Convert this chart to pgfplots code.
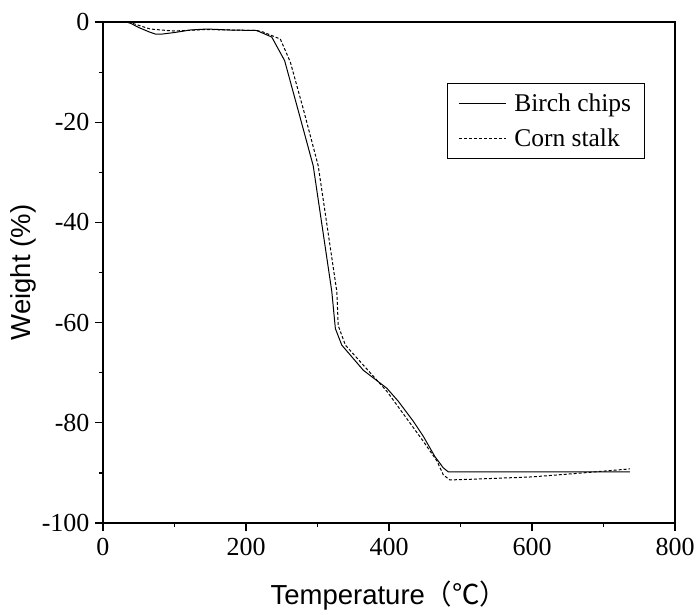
\documentclass[border=0pt]{standalone}
\usepackage{fontspec}
\setmainfont{Liberation Serif}
\newfontfamily\arial{Liberation Sans}
\newfontfamily\cjk{Noto Sans CJK SC}
\usepackage{pgfplots}
\pgfplotsset{compat=1.18}
\begin{document}
\begin{tikzpicture}
\begin{axis}[
  name=ax,
  scale only axis,
  width=572pt, height=501pt,
  xmin=0, xmax=800, ymin=-100, ymax=0,
  xtick={0,200,400,600,800},
  ytick={-100,-80,-60,-40,-20,0},
  minor xtick={100,300,500,700},
  minor ytick={-90,-70,-50,-30,-10},
  tick align=outside,
  xtick pos=left, ytick pos=left,
  major tick length=8pt, minor tick length=4pt,
  every tick/.style={black, line width=1.2pt},
  axis line style={line width=1.5pt},
  /pgf/number format/assume math mode=true,
  tick label style={font=\fontsize{26}{26}\selectfont},
  xticklabel style={yshift=-4pt},
  yticklabel style={xshift=-2pt},
  xlabel={Temperature\cjk{（℃）}},
  ylabel={Weight (\%)},
  every axis x label/.style={at={(axis description cs:0.5,0)}, anchor=center, yshift=-73pt,
     font=\arial\fontsize{27.5}{28}\selectfont},
  every axis y label/.style={at={(axis description cs:0,0.5)}, xshift=-80pt, rotate=90, anchor=center,
     font=\arial\fontsize{27.5}{28}\selectfont},
  legend style={at={(rel axis cs:0.601,0.878)}, anchor=north west, draw=black, line width=1pt,
    font=\fontsize{25.5}{28}\selectfont, inner xsep=11pt, inner ysep=8pt, row sep=12pt, column sep=6pt},
  legend cell align=left,
  legend image code/.code={\draw[#1, line width=1pt] (0pt,0pt) -- (47pt,0pt);},
]
\addplot[black, line width=1pt] coordinates {
(0,0) (20,0) (35,0) (50,-1.1) (65,-2.0) (73,-2.4) (83,-2.4) (100,-2.1) (122,-1.6)
(145,-1.4) (178,-1.6) (215,-1.7) (236,-3.0) (254,-7.7) (275,-18.7) (294,-28.7)
(320,-53.8) (325,-61.2) (334,-64.5) (364,-69.5) (397,-73.1) (413,-75.7) (434,-79.7)
(448,-82.7) (464,-86.7) (476,-89.0) (483,-89.8) (737,-89.8)
};
\addlegendentry{Birch chips}
\addplot[black, line width=1pt, dash pattern=on 3pt off 2pt] coordinates {
(0,0) (30,0) (42,-0.3) (66,-1.4) (98,-1.8) (145,-1.5) (215,-1.7) (224,-2.0)
(241,-3.0) (248,-3.4) (262,-8.0) (280,-17.3) (301,-28.7) (327,-53.8) (329,-60.6)
(339,-64.5) (397,-73.7) (448,-83.7) (467,-87.6) (476,-90.4) (485,-91.4) (509,-91.3)
(600,-90.8) (671,-90.0) (737,-89.2)
};
\addlegendentry{Corn stalk}
\end{axis}
\pgfresetboundingbox
\path ([shift={(-103pt,-91pt)}]ax.south west) rectangle ([shift={(22pt,22pt)}]ax.north east);
\end{tikzpicture}
\end{document}
